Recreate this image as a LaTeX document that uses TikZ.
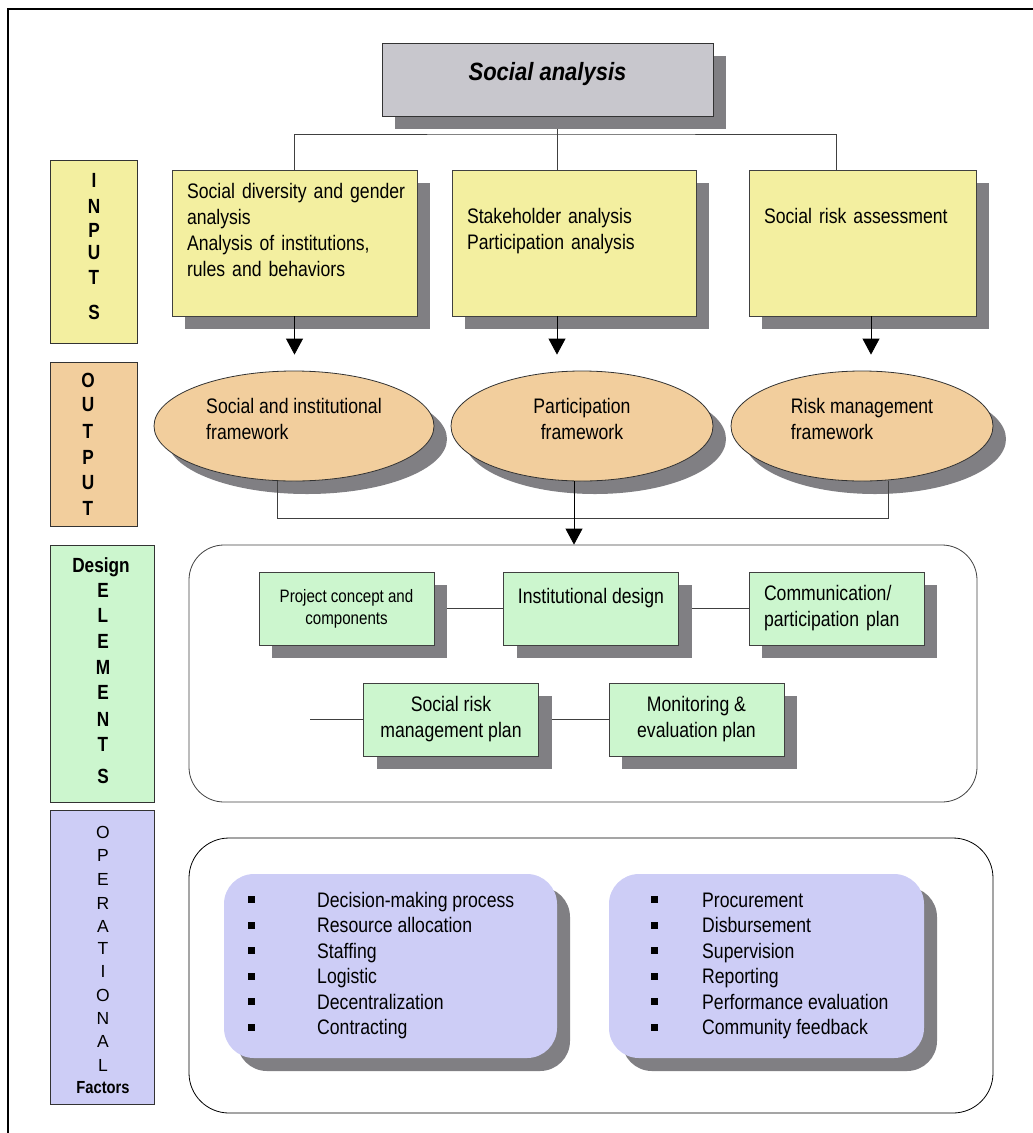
\documentclass[tikz,border=0pt]{standalone}
\usepackage{fontspec}
\setmainfont{Liberation Sans}
\newfontfamily\narrow[FakeStretch=0.84]{Liberation Sans}
\newfontfamily\narrowhead[FakeStretch=0.88]{Liberation Sans}
\usetikzlibrary{arrows.meta,positioning,shapes.geometric,shadows,backgrounds}
\definecolor{titlegray}{RGB}{200,199,205}
\definecolor{shadowgray}{RGB}{128,127,131}
\definecolor{inyellow}{RGB}{243,239,160}
\definecolor{outorange}{RGB}{242,206,157}
\definecolor{desgreen}{RGB}{204,246,206}
\definecolor{oplav}{RGB}{205,205,246}
\newcommand\boxfont{\narrow\fontsize{21}{26}\selectfont}
\newcommand\smallboxfont{\narrow\fontsize{18}{22}\selectfont}
\newcommand\listfont{\narrow\fontsize{21}{25.5}\selectfont}
\newcommand\headfont{\narrowhead\bfseries\itshape\fontsize{25}{30}\selectfont}
\newcommand\sidefont{\narrow\bfseries\fontsize{20.5}{24}\selectfont}
\newcommand\opfont{\fontsize{17.5}{20}\selectfont}
\newcommand\opbullet{\rule[4pt]{7pt}{7pt}}

\begin{document}
\begin{tikzpicture}[x=1pt,y=-1pt,
shade box/.style={general shadow={fill=shadowgray,shadow xshift=13pt,shadow yshift=-13pt}},
sidebox/.style={draw=black!80,line width=0.8pt},
sideletter/.style={font=\sidefont,inner sep=0pt},
opletter/.style={font=\opfont,inner sep=0pt},
inbox/.style={draw=black!75,fill=inyellow,line width=0.8pt,shade box,minimum height=146pt,
  inner xsep=15pt,align=left,font=\boxfont},
outell/.style={ellipse,draw=black!80,fill=outorange,line width=0.8pt,shade box,minimum height=110pt,
  inner sep=0pt,align=left,font=\boxfont,text depth=14pt},
gbox/.style={draw=black!75,fill=desgreen,line width=0.8pt,shade box,minimum width=175pt,
  minimum height=73pt,font=\boxfont,align=center},
roundframe/.style={draw=black!75,line width=0.8pt,rounded corners=35pt},
lbox/.style={fill=oplav,rounded corners=30pt,shade box,minimum height=184pt},
conn/.style={draw=black!75,line width=0.8pt},
arr/.style={conn,draw=black,-{Triangle[width=17pt,length=16pt]}}]
\useasboundingbox (0,0) rectangle (1033,1133);
\draw[line width=1.6pt] (8,9) rectangle (1060,1160);

\node[draw=black!80,fill=titlegray,line width=0.8pt,shade box,minimum width=331pt,minimum height=73pt,
  font=\headfont,text depth=17pt] (title) at (547.5,79.5) {Social analysis};

% side labels
\node[sidebox,fill=inyellow,minimum width=87pt,minimum height=183pt] (inputs) at (93.5,251.5) {};
\foreach \l/\y [count=\i] in {I/180,N/206,P/230,U/253,T/277,S/312}
  \node[sideletter] (inputs-\i) at (94,\y) {\l};
\node[sidebox,fill=outorange,minimum width=87pt,minimum height=164pt] (output) at (93.5,444) {};
\foreach \l/\y [count=\i] in {O/380,U/405,T/431,P/457,U/483,T/508}
  \node[sideletter] (output-\i) at (88,\y) {\l};
\node[sidebox,fill=desgreen,minimum width=104pt,minimum height=257pt] (design) at (102,673.5) {};
\node[sideletter,anchor=base] (design-word) at (101,572) {Design};
\foreach \l/\y [count=\i] in {E/590,L/615,E/641,M/667,E/692,N/719,T/744,S/776}
  \node[sideletter] (design-\i) at (103,\y) {\l};
\node[sidebox,fill=oplav,minimum width=104pt,minimum height=294pt] (oper) at (102,957) {};
\foreach \l/\y [count=\i] in {O/832,P/855,E/879,R/903,A/926,T/948,I/971,O/995,N/1018,A/1041,L/1065}
  \node[opletter] (oper-\i) at (103,\y) {\l};
\node[sideletter,font=\narrow\bfseries\fontsize{17.5}{20}\selectfont,anchor=base] (oper-word) at (103,1093) {Factors};

% inputs
\node[inbox,text width=215pt,text depth=105pt] (in1) at (294.5,243)
  {\mbox{Social diversity and gender}\\analysis\\Analysis of institutions,\\rules and behaviors};
\node[inbox,text width=214pt,text depth=55pt] (in2) at (574,243)
  {Stakeholder analysis\\Participation analysis};
\node[inbox,text width=197pt,text depth=55pt] (in3) at (862.5,243) {Social risk assessment};

% outputs
\node[outell,minimum width=280pt] (e1) at (294,426) {Social and institutional\\framework};
\node[outell,minimum width=262pt,align=center] (e2) at (582,426) {Participation\\framework};
\node[outell,minimum width=262pt] (e3) at (862,426) {Risk management\\framework};

% design elements
\node[roundframe,minimum width=788pt,minimum height=257pt] (dframe) at (583,673.5) {};
\node[gbox,font=\smallboxfont] (pc) at (346.5,608.5) {Project concept and\\components};
\node[gbox,text depth=26pt] (id) at (591,608.5) {Institutional design};
\node[gbox,align=left,text width=145pt,inner xsep=15pt] (cp) at (836.5,608.5)
  {Communication/\\participation plan};
\node[gbox] (sr) at (451,719.5) {Social risk\\management plan};
\node[gbox] (me) at (696.5,719.5) {Monitoring \&\\evaluation plan};

% operational factors
\node[roundframe,draw=black,rounded corners=40pt,minimum width=804pt,minimum height=275pt] (oframe) at (591,975.5) {};
\node[lbox,minimum width=333pt] (ops1) at (390.5,966) {};
\node[lbox,minimum width=315pt] (ops2) at (766.5,966) {};
\node[anchor=west,inner sep=0pt,font=\listfont] (list1) at (248,966) {%
  \begin{tabular}{@{}p{69pt}@{}l@{}}
  \opbullet & Decision-making process\\
  \opbullet & Resource allocation\\
  \opbullet & Staffing\\
  \opbullet & Logistic\\
  \opbullet & Decentralization\\
  \opbullet & Contracting
  \end{tabular}};
\node[anchor=west,inner sep=0pt,font=\listfont] (list2) at (651,966) {%
  \begin{tabular}{@{}p{51pt}@{}l@{}}
  \opbullet & Procurement\\
  \opbullet & Disbursement\\
  \opbullet & Supervision\\
  \opbullet & Reporting\\
  \opbullet & Performance evaluation\\
  \opbullet & Community feedback
  \end{tabular}};

% connectors
\coordinate (hub) at (557,134);
\begin{scope}[on background layer]
\draw[conn] (title.south -| hub) -- (hub);
\draw[conn] (pc) -- (id);
\draw[conn] (id) -- (cp);
\draw[conn] (sr.west) -- ++(-53,0);
\draw[conn] (sr) -- (me);
\end{scope}
\draw[conn] (in1.north) |- (hub) -| ([xshift=-26pt]in3.north);
\draw[conn] (hub) -- (hub |- in2.north);
\draw[arr,shorten >=16pt] (in1.south) -- (in1.south |- e1.north);
\draw[arr,shorten >=16pt] (hub |- in2.south) -- (hub |- e2.north);
\draw[arr,shorten >=16pt] ([xshift=8.5pt]in3.south) -- ([xshift=8.5pt]in3.south |- e3.north);
\draw[conn] ([xshift=-17pt]e1.south) -- ++(0,37) -| ([xshift=26pt]e3.south);
\draw[arr] ([xshift=-8pt]e2.south) -- ([xshift=-8pt]e2.south |- dframe.north);
\end{tikzpicture}
\end{document}
